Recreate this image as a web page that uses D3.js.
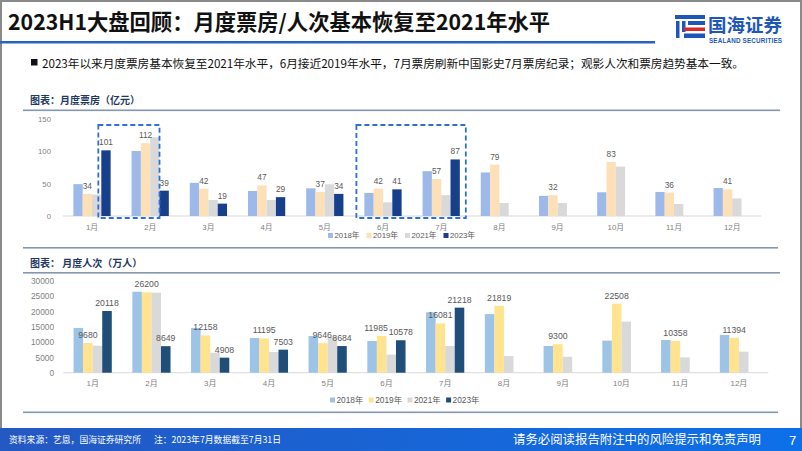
<!DOCTYPE html>
<html><head><meta charset="utf-8">
<script src="https://cdn.jsdelivr.net/npm/d3@7/dist/d3.min.js"></script>
<style>
html,body{margin:0;padding:0;background:#fff;}
svg{display:block;}
text{font-family:"Liberation Sans","Noto Sans CJK SC",sans-serif;}
.cjk{font-family:"Noto Sans CJK SC","Liberation Sans",sans-serif;}
</style></head>
<body>
<svg id="c" width="802" height="451"></svg>
<script>
// ---- data ----
const months = ["1月","2月","3月","4月","5月","6月","7月","8月","9月","10月","11月","12月"];
const seriesNames = ["2018年","2019年","2021年","2023年"];
// 月度票房（亿元）
const box2018 = [49,100,51,38.5,42.6,35.4,69,67,31,36.5,37,43];
const box2019 = [34,112,42,47,37,42,57,79,32,83,36,41];
const box2021 = [33,121,24.6,24.6,48.8,21,32,20,20,76,18.5,27];
const box2023 = [101,39,19,29,34,41,87];
// 月度人次（万人）
const att2018 = [14600,26400,14600,11300,11950,10330,19700,19100,8700,10450,10650,12300];
const att2019 = [9680,26200,12158,11195,9646,11985,16081,21819,9300,22508,10358,11394];
const att2021 = [8800,26100,6500,6750,11700,5900,8700,5450,5200,16650,5000,6850];
const att2023 = [20118,8649,4908,7503,8684,10578,21218];
const boxTicks = [0,50,100,150];
const attTicks = [0,5000,10000,15000,20000,25000,30000];
const labeledSeries = ["2019年","2023年"];
const highlightBox1 = ["1月","2月"];
const highlightBox2 = ["6月","7月"];

const svg = d3.select("#c");

// ---- slide frame / header ----
svg.append("rect").attr("x",1).attr("y",1).attr("width",800).attr("height",449)
  .attr("fill","#fff").attr("stroke","#8a8a8a").attr("stroke-width",2);

svg.append("text").attr("class","cjk").attr("x",8).attr("y",30)
  .attr("font-size",21.3).attr("font-weight","bold").attr("fill","#111")
  .text("2023H1大盘回顾：月度票房/人次基本恢复至2021年水平");
svg.append("rect").attr("x",0).attr("y",41).attr("width",655).attr("height",2.5).attr("fill","#2a62c4");

// logo
const lg = svg.append("g");
lg.append("rect").attr("x",675).attr("y",15).attr("width",30).attr("height",4).attr("fill","#1f57b8");
lg.append("rect").attr("x",676).attr("y",21).attr("width",3.5).attr("height",17).attr("fill","#1f57b8");
lg.append("rect").attr("x",682).attr("y",21).attr("width",3.5).attr("height",11).attr("fill","#1f57b8");
lg.append("rect").attr("x",688).attr("y",21).attr("width",17).attr("height",4).attr("fill","#1f57b8");
lg.append("rect").attr("x",684).attr("y",27.5).attr("width",21).attr("height",3.5).attr("fill","#d92a2a");
lg.append("rect").attr("x",684).attr("y",33.5).attr("width",21).attr("height",4.5).attr("fill","#1f57b8");
svg.append("text").attr("class","cjk").attr("x",708).attr("y",32).attr("font-size",18.5)
  .attr("font-weight","bold").attr("fill","#1f57b8").attr("textLength",74).text("国海证券");
svg.append("text").attr("x",709).attr("y",42.5).attr("font-size",6.3).attr("font-weight","bold")
  .attr("fill","#1f57b8").attr("textLength",73).text("SEALAND SECURITIES");

// bullet
svg.append("rect").attr("x",31).attr("y",59).attr("width",6.5).attr("height",6.5).attr("fill","#111");
svg.append("text").attr("class","cjk").attr("x",42).attr("y",67.5).attr("font-size",11.7).attr("fill","#111")
  .attr("textLength",702).text("2023年以来月度票房基本恢复至2021年水平，6月接近2019年水平，7月票房刷新中国影史7月票房纪录；观影人次和票房趋势基本一致。");

// ---- generic chart ----
function chart(cfg){
  const g = svg.append("g");
  g.append("text").attr("class","cjk").attr("x",30).attr("y",cfg.titleY).attr("font-size",10)
    .attr("font-weight","bold").attr("fill","#1f3864").text(cfg.title);
  g.append("rect").attr("x",23).attr("y",cfg.lineY).attr("width",757).attr("height",1.6).attr("fill","#8496b0");
  g.append("rect").attr("x",23).attr("y",cfg.bottomLineY).attr("width",755).attr("height",1.6).attr("fill","#8496b0");

  const x = d3.scaleBand().domain(months).range(cfg.xRange).paddingInner(cfg.pi).paddingOuter(cfg.po);
  const x1 = d3.scaleBand().domain(seriesNames).range([0,x.bandwidth()]);
  const y = d3.scaleLinear().domain(cfg.yDomain).range(cfg.yRange);

  g.append("line").attr("x1",cfg.xRange[0]).attr("x2",cfg.xRange[1]).attr("y1",y(0)).attr("y2",y(0))
    .attr("stroke","#d9d9d9").attr("stroke-width",1);

  const ya = d3.axisLeft(y).tickValues(cfg.ticks).tickSize(0).tickPadding(0).tickFormat(d3.format("d"));
  const yg = g.append("g").attr("transform",`translate(${cfg.yLabelX},0)`).call(ya);
  yg.select(".domain").remove();
  yg.selectAll("text").attr("font-size",cfg.tickFont).attr("fill","#7f7f7f")
    .attr("font-family","Liberation Sans, sans-serif");

  const xa = d3.axisBottom(x).tickSize(0).tickPadding(0);
  const xg = g.append("g").attr("transform",`translate(0,${cfg.xLabelY})`).call(xa);
  xg.select(".domain").remove();
  xg.selectAll("text").attr("font-size",cfg.xFont).attr("fill","#7f7f7f").attr("dy","0.35em")
    .attr("font-family","Liberation Sans, Noto Sans CJK SC, sans-serif");

  const rows = [];
  cfg.data.forEach((arr,si)=>{
    arr.forEach((v,mi)=>rows.push({m:months[mi], s:seriesNames[si], v:v}));
  });
  g.append("g").selectAll("rect").data(rows).join("rect")
    .attr("x",d=>x(d.m)+x1(d.s)).attr("width",x1.bandwidth())
    .attr("y",d=>y(d.v)).attr("height",d=>y(0)-y(d.v))
    .attr("fill",d=>cfg.colors[seriesNames.indexOf(d.s)]);

  // data labels with simple horizontal collision avoidance
  const lbl = rows.filter(d=>labeledSeries.includes(d.s)).map(d=>({
    d, cx:x(d.m)+x1(d.s)+x1.bandwidth()/2, cy:y(d.v)-5,
    w:String(d.v).length*cfg.labelFont*0.556
  }));
  months.forEach(m=>{
    const ls = lbl.filter(l=>l.d.m===m);
    if(ls.length===2){
      const [a,b]=ls;
      const overlapX = (a.cx+a.w/2)-(b.cx-b.w/2);
      const overlapY = Math.abs(a.cy-b.cy) < cfg.labelFont;
      if(overlapX>0 && overlapY){ a.cx -= overlapX+0.5; }
    }
  });
  g.append("g").selectAll("text").data(lbl).join("text")
    .attr("x",l=>l.cx).attr("y",l=>l.cy)
    .attr("text-anchor","middle").attr("font-size",cfg.labelFont).attr("fill","#595959")
    .text(l=>l.d.v);

  const leg = g.append("g");
  seriesNames.forEach((s,i)=>{
    const lx = cfg.legendX + i*cfg.legendStep;
    leg.append("rect").attr("x",lx).attr("y",cfg.legendY-2.5).attr("width",5).attr("height",5).attr("fill",cfg.colors[i]);
    leg.append("text").attr("x",lx+6.5).attr("y",cfg.legendY).attr("dy","0.35em")
      .attr("font-size",cfg.legendFont).attr("fill","#595959").text(s);
  });
  return {g,x,x1,y};
}

const boxChart = chart({
  title:"图表：月度票房（亿元）", titleY:104, lineY:109.5, bottomLineY:247,
  xRange:[62.9,761.3], pi:0.36, po:0.18,
  yDomain:[0,150], yRange:[216,118.5], ticks:boxTicks, yLabelX:51,
  tickFont:7.8, xFont:7.8, xLabelY:227, labelFont:8.3,
  data:[box2018,box2019,box2021,box2023],
  colors:["#9cb9e9","#fde0b8","#d9d9d9","#173f8c"],
  legendX:328, legendStep:38.5, legendY:235.5, legendFont:7.8
});

function hbox(ch, x0, x1v){
  ch.g.append("rect").attr("x",x0).attr("y",125).attr("width",x1v-x0).attr("height",93)
    .attr("fill","none").attr("stroke","#2f6fd6").attr("stroke-width",1.8).attr("stroke-dasharray","5,3");
}
hbox(boxChart,
  boxChart.x(highlightBox1[0])+boxChart.x1("2023年")-3,
  boxChart.x(highlightBox1[1])+boxChart.x1("2023年"));
hbox(boxChart,
  boxChart.x(highlightBox2[0])-8,
  boxChart.x(highlightBox2[1])+boxChart.x.bandwidth()+6);

chart({
  title:"图表：  月度人次（万人）", titleY:267, lineY:272, bottomLineY:411.5,
  xRange:[63.3,768.3], pi:0.35, po:0.175,
  yDomain:[0,30000], yRange:[372.7,280.7], ticks:attTicks, yLabelX:54,
  tickFont:8.3, xFont:8, xLabelY:383, labelFont:8.7,
  data:[att2018,att2019,att2021,att2023],
  colors:["#9dc3e6","#ffe38f","#d9d9d9","#1f4e79"],
  legendX:330, legendStep:38.7, legendY:400, legendFont:8.3
});

// ---- footer ----
const grad = svg.append("defs").append("linearGradient").attr("id","fg").attr("x1","0").attr("x2","1");
grad.append("stop").attr("offset","0").attr("stop-color","#2458c2");
grad.append("stop").attr("offset","1").attr("stop-color","#0d70e8");
svg.append("rect").attr("x",0).attr("y",428).attr("width",802).attr("height",23).attr("fill","url(#fg)");
svg.append("text").attr("class","cjk").attr("x",9).attr("y",443).attr("font-size",8.8).attr("fill","#fff")
  .text("资料来源：艺恩，国海证券研究所");
svg.append("text").attr("class","cjk").attr("x",154).attr("y",443).attr("font-size",8.8).attr("fill","#fff")
  .text("注：2023年7月数据截至7月31日");
svg.append("text").attr("class","cjk").attr("x",513).attr("y",444).attr("font-size",12.4).attr("fill","#fff")
  .attr("textLength",248).text("请务必阅读报告附注中的风险提示和免责声明");
svg.append("text").attr("x",789).attr("y",444.5).attr("font-size",13).attr("fill","#fff").text("7");
</script>
</body></html>
